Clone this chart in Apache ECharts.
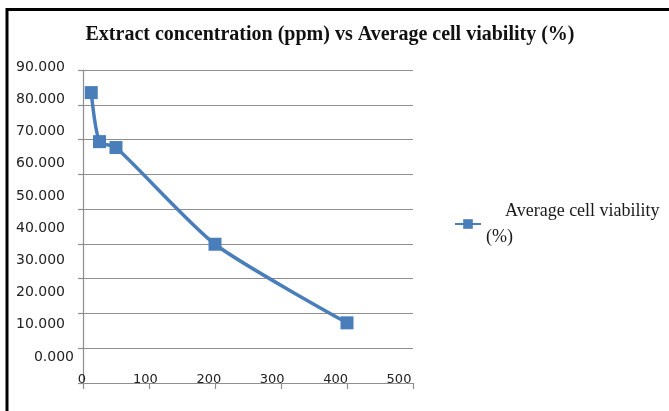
<!DOCTYPE html>
<html>
<head>
<meta charset="utf-8">
<script src="https://cdn.jsdelivr.net/npm/echarts@6/dist/echarts.min.js"></script>
<style>
  html, body { margin: 0; padding: 0; background: #ffffff; }
  #chart { width: 669px; height: 411px; }
</style>
</head>
<body>
<div id="chart"></div>
<script>
// Extract concentration (ppm) on x, average cell viability (%) on y
const concentrations = [12.5, 25, 50, 200, 400];
const viability = [83.5, 69.4, 67.7, 39.9, 17.3];

const seriesName = 'Average cell viability (%)';
const chartTitle = 'Extract concentration (ppm) vs Average cell viability (%)';

const xTicks = { min: 0, max: 500, step: 100 };
const yTicks = { min: 0, max: 90, step: 10 };

const blue = '#4a7ebb';
const gridGray = '#8e8e8e';

const points = concentrations.map((c, i) => [c, viability[i]]);

const chart = echarts.init(document.getElementById('chart'), null, { renderer: 'canvas' });

chart.setOption({
  backgroundColor: '#ffffff',
  animation: false,
  title: {
    text: chartTitle,
    left: 325,
    textAlign: 'center',
    top: 20,
    textStyle: {
      fontFamily: 'Liberation Serif',
      fontWeight: 'bold',
      fontSize: 20,
      color: '#111111'
    }
  },
  legend: {
    data: [seriesName],
    left: 454,
    top: 202,
    padding: 0,
    itemWidth: 26,
    itemHeight: 12,
    formatter: () => '{a|Average cell viability}\n{b|(%)}',
    textStyle: {
      fontFamily: 'Liberation Serif',
      fontSize: 18,
      color: '#1a1a1a',
      rich: {
        a: { fontFamily: 'Liberation Serif', fontSize: 18, lineHeight: 26, padding: [0, 0, 0, 19], color: '#1a1a1a' },
        b: { fontFamily: 'Liberation Serif', fontSize: 18, lineHeight: 26, color: '#1a1a1a' }
      }
    }
  },
  grid: [
    // plotting area
    { left: 83, top: 70, width: 330, height: 313 },
    // tick label layer
    { left: 82, top: 67, width: 317, height: 290 }
  ],
  xAxis: [
    {
      gridIndex: 0, type: 'value',
      min: xTicks.min, max: xTicks.max, interval: xTicks.step,
      axisLine: { show: true, lineStyle: { color: gridGray, width: 1.2 } },
      axisTick: { show: true, length: 6, lineStyle: { color: gridGray, width: 1.2 } },
      axisLabel: { show: false },
      splitLine: { show: false }
    },
    {
      gridIndex: 1, type: 'value',
      min: xTicks.min, max: xTicks.max, interval: xTicks.step,
      axisLine: { show: false }, axisTick: { show: false }, splitLine: { show: false },
      axisLabel: {
        margin: 16,
        fontFamily: 'DejaVu Sans', fontSize: 13, color: '#222222'
      }
    }
  ],
  yAxis: [
    {
      gridIndex: 0, type: 'value',
      min: yTicks.min, max: yTicks.max, interval: yTicks.step,
      axisLine: { show: true, lineStyle: { color: gridGray, width: 1.2 } },
      axisTick: { show: true, length: 5, lineStyle: { color: gridGray, width: 1.2 } },
      axisLabel: { show: false },
      splitLine: { show: true, lineStyle: { color: gridGray, width: 1.2 } }
    },
    {
      gridIndex: 1, type: 'value',
      min: yTicks.min, max: yTicks.max, interval: yTicks.step,
      axisLine: { show: false }, axisTick: { show: false }, splitLine: { show: false },
      axisLabel: {
        margin: 8,
        fontFamily: 'DejaVu Sans', fontSize: 14, color: '#222222',
        formatter: v => v === 0 ? '{z|' + v.toFixed(3) + '}' : '{p|' + v.toFixed(3) + '}',
        rich: {
          p: { fontFamily: 'DejaVu Sans', fontSize: 14, color: '#222222', padding: [0, 9, 0, 0] },
          z: { fontFamily: 'DejaVu Sans', fontSize: 14, color: '#222222' }
        }
      }
    }
  ],
  series: [
    {
      name: seriesName,
      type: 'line',
      xAxisIndex: 0,
      yAxisIndex: 0,
      data: points,
      smooth: 0.22,
      symbol: 'rect',
      symbolSize: 13,
      lineStyle: { color: blue, width: 3.5 },
      itemStyle: { color: blue }
    }
  ],
  graphic: [
    {
      type: 'rect',
      silent: true,
      shape: { x: 7, y: 9.5, width: 720, height: 460 },
      style: { fill: 'none', stroke: '#000000', lineWidth: 3 }
    }
  ]
});
</script>
</body>
</html>
